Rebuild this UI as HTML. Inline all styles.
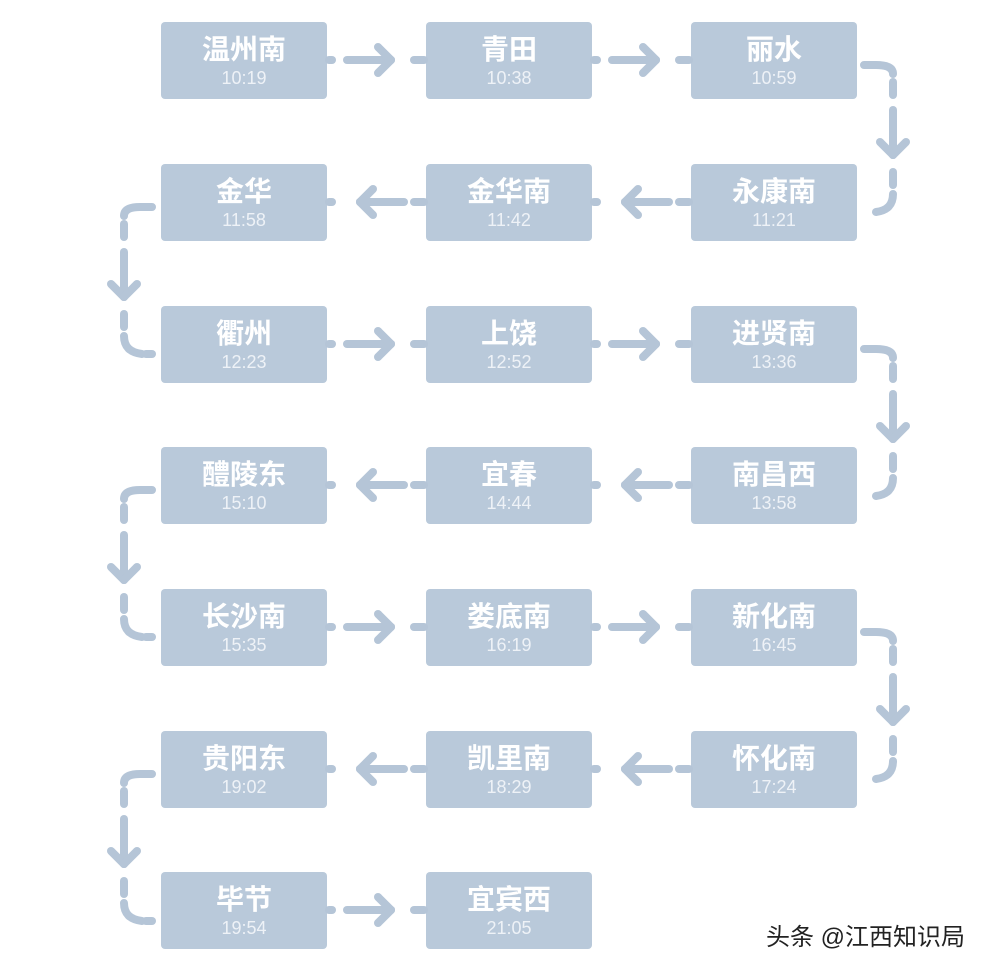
<!DOCTYPE html>
<html><head><meta charset="utf-8"><style>
body{margin:0;background:#fff;width:996px;height:970px;overflow:hidden}
svg{display:block}
.n{font:bold 28px "Liberation Sans","Noto Sans CJK SC",sans-serif;fill:#fff}
.t{font:18px "Liberation Sans","Noto Sans CJK SC",sans-serif;fill:#eef2f7}
</style></head><body>
<svg width="996" height="970" xmlns="http://www.w3.org/2000/svg">
<g id="g"></g>
<text x="766" y="945" style="font:24px 'Liberation Sans','Noto Sans CJK SC',sans-serif;fill:#222">头条 @江西知识局</text>
</svg>
<script>
const rows=[22,164,306,447,589,731,872],cols=[161,426,691];
const data=[["温州南","10:19"],["青田","10:38"],["丽水","10:59"],
["永康南","11:21"],["金华南","11:42"],["金华","11:58"],
["衢州","12:23"],["上饶","12:52"],["进贤南","13:36"],
["南昌西","13:58"],["宜春","14:44"],["醴陵东","15:10"],
["长沙南","15:35"],["娄底南","16:19"],["新化南","16:45"],
["怀化南","17:24"],["凯里南","18:29"],["贵阳东","19:02"],
["毕节","19:54"],["宜宾西","21:05"]];
let s='';const C='#b5c5d7';
const L=(a,b,c,d)=>`<line x1="${a}" y1="${b}" x2="${c}" y2="${d}" stroke="${C}" stroke-width="8" stroke-linecap="round" fill="none"/>`;
const P=d=>`<path d="${d}" stroke="${C}" stroke-width="8" stroke-linecap="round" fill="none"/>`;
data.forEach((d,i)=>{const r=Math.floor(i/3),k=i%3,c=(r%2==0)?k:2-k;const x=cols[c],y=rows[r];
s+=`<rect x="${x}" y="${y}" width="166" height="77" rx="4" fill="#b9c9da"/>`;
s+=`<text class="n" x="${x+83}" y="${y+37}" text-anchor="middle">${d[0]}</text>`;
s+=`<text class="t" x="${x+83}" y="${y+62}" text-anchor="middle">${d[1]}</text>`;});
for(let r=0;r<7;r++){const cy=rows[r]+38;const n=r==6?1:2;
for(let j=0;j<n;j++){const a=cols[j]+166,b=cols[j+1];
s+=L(a+2,cy,a+5,cy)+L(b-12,cy,b-2,cy);
if(r%2==0){s+=L(a+20,cy,a+64,cy)+L(a+64,cy,a+51,cy-13)+L(a+64,cy,a+51,cy+13);}
else{s+=L(a+33,cy,a+77,cy)+L(a+33,cy,a+46,cy-13)+L(a+33,cy,a+46,cy+13);}
}}
for(let r=0;r<6;r++){const y=rows[r];
if(r%2==0){const X=893;
s+=P(`M864 ${y+43} L876 ${y+43} Q${X} ${y+43} ${X} ${y+52}`)+L(X,y+60,X,y+73)+L(X,y+88,X,y+133)+L(X,y+133,X-13,y+120)+L(X,y+133,X+13,y+120)+L(X,y+150,X,y+163)+P(`M${X} ${y+172} Q${X} ${y+188} ${876} ${y+190}`);}
else{const X=124;
s+=P(`M152 ${y+43} L140 ${y+43} Q${X} ${y+43} ${X} ${y+52}`)+L(X,y+60,X,y+73)+L(X,y+88,X,y+133)+L(X,y+133,X-13,y+120)+L(X,y+133,X+13,y+120)+L(X,y+150,X,y+163)+P(`M${X} ${y+172} Q${X} ${y+188} ${142} ${y+190}`)+L(146,y+190,152,y+190);}
}
document.getElementById('g').innerHTML=s;
</script>
</body></html>
